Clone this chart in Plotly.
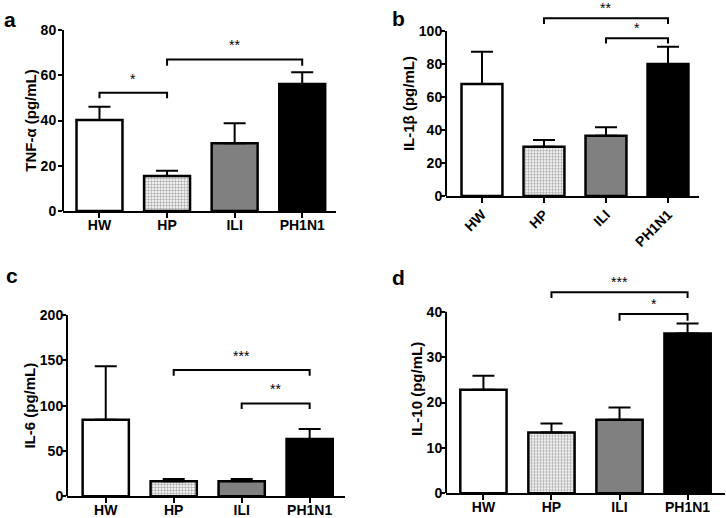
import plotly.graph_objects as go

# ---------------- data ----------------
categories = ["HW", "HP", "ILI", "PH1N1"]

tnf_mean = [40.2, 15.5, 29.9, 56.1]
tnf_sem = [5.9, 2.3, 8.9, 5.2]

il1b_mean = [67.9, 29.9, 36.5, 80.0]
il1b_sem = [19.6, 4.0, 5.1, 10.5]

il6_mean = [84.5, 16.5, 16.5, 63.2]
il6_sem = [58.9, 2.5, 2.5, 11.0]

il10_mean = [22.8, 13.4, 16.2, 35.2]
il10_sem = [3.1, 2.0, 2.7, 2.2]

# significance brackets: (from index, to index, top value, leg end value, label)
tnf_sig = [(0, 1, 52.3, 49.8, "*"), (1, 3, 67.0, 64.2, "**")]
il1b_sig = [(1, 3, 107.7, 104.2, "**"), (2, 3, 95.6, 92.5, "*")]
il6_sig = [(1, 3, 139.3, 133.0, "***"), (2, 3, 102.5, 96.3, "**")]
il10_sig = [(1, 3, 44.3, 43.0, "***"), (2, 3, 39.5, 38.0, "*")]

tnf_ticks = [0, 20, 40, 60, 80]
il1b_ticks = [0, 20, 40, 60, 80, 100]
il6_ticks = [0, 50, 100, 150, 200]
il10_ticks = [0, 10, 20, 30, 40]

# ---------------- styling / layout ----------------
W, H = 726, 518
FONT = "Liberation Sans"
bar_colors = ["white", "#efefef", "#808080", "black"]
bar_patterns = ["", "+", "", ""]

panels = [
    dict(lab="a", title="TNF-α (pg/mL)", mean=tnf_mean, sem=tnf_sem, sig=tnf_sig, ticks=tnf_ticks,
         xpx=(63, 336), ypx=(211, 30), ytop=80, xr=(-0.54, 3.5), bw=0.68, angle=0, lpos=(10, 19),
         star_shift=4, ylab_off=-1),
    dict(lab="b", title="IL-1β (pg/mL)", mean=il1b_mean, sem=il1b_sem, sig=il1b_sig, ticks=il1b_ticks,
         xpx=(446, 699), ypx=(196, 11.2), ytop=112, xr=(-0.58, 3.5), bw=0.66, angle=-45, lpos=(399, 18),
         star_shift=0, ylab_off=-4),
    dict(lab="c", title="IL-6 (pg/mL)", mean=il6_mean, sem=il6_sem, sig=il6_sig, ticks=il6_ticks,
         xpx=(67, 345), ypx=(496.3, 315), ytop=200, xr=(-0.57, 3.52), bw=0.68, angle=0, lpos=(12, 275),
         star_shift=4, ylab_off=-4),
    dict(lab="d", title="IL-10 (pg/mL)", mean=il10_mean, sem=il10_sem, sig=il10_sig, ticks=il10_ticks,
         xpx=(446, 725), ypx=(493.3, 284.5), ytop=46, xr=(-0.55, 3.55), bw=0.68, angle=0, lpos=(399, 277),
         star_shift=0, ylab_off=-4),
]

fig = go.Figure()
annotations = []
shapes = []
tickfont = dict(family=FONT, size=14, color="black", weight="bold")

for k, p in enumerate(panels):
    n = "" if k == 0 else str(k + 1)
    xa, ya = "x" + n, "y" + n
    xs = list(range(len(categories)))
    fig.add_trace(go.Bar(
        x=xs, y=p["mean"], width=p["bw"], xaxis=xa, yaxis=ya,
        marker=dict(color=bar_colors, line=dict(color="black", width=2.5),
                    pattern=dict(shape=bar_patterns, fgcolor="#cfcfcf", size=3, solidity=0.3)),
        error_y=dict(type="data", symmetric=False, array=p["sem"], arrayminus=[0] * 4,
                     color="black", thickness=2, width=11),
        showlegend=False, hoverinfo="skip",
    ))
    for (i, j, top, leg, txt) in p["sig"]:
        fig.add_trace(go.Scatter(
            x=[i, i, j, j], y=[leg, top, top, leg], mode="lines", xaxis=xa, yaxis=ya,
            line=dict(color="black", width=2), showlegend=False, hoverinfo="skip",
        ))
        annotations.append(dict(x=(i + j) / 2, y=top, xref=xa, yref=ya, text=txt, showarrow=False,
                                yanchor="bottom", yshift=p["star_shift"],
                                font=dict(family=FONT, size=14, color="black")))
    # y axis line from 0 to top tick
    shapes.append(dict(type="line", xref=xa + " domain", yref=ya, x0=0, x1=0,
                       y0=0, y1=p["ticks"][-1], line=dict(color="black", width=2)))
    annotations.append(dict(x=p["lpos"][0] / W, y=1 - p["lpos"][1] / H, xref="paper", yref="paper",
                            text="<b>" + p["lab"] + "</b>", showarrow=False,
                            xanchor="center", yanchor="middle",
                            font=dict(family=FONT, size=21, color="black")))
    fig.update_layout(**{
        ("xaxis" + n): dict(domain=[p["xpx"][0] / W, p["xpx"][1] / W], range=list(p["xr"]), anchor=ya,
                           tickvals=xs, ticktext=categories, ticks="outside", ticklen=5, tickwidth=2,
                           tickcolor="black", showline=True, linewidth=2, linecolor="black",
                           showgrid=False, zeroline=False, tickangle=p["angle"], tickfont=tickfont,
                           ticklabelstandoff=-5 if p["angle"] == 0 else -2,
                           automargin=False, fixedrange=True),
        ("yaxis" + n): dict(domain=[1 - p["ypx"][0] / H, 1 - p["ypx"][1] / H], range=[0, p["ytop"]],
                           anchor=xa, tickvals=p["ticks"], ticks="outside", ticklen=4, tickwidth=2,
                           tickcolor="black", showline=False, showgrid=False, zeroline=False,
                           tickfont=tickfont, ticklabelstandoff=p["ylab_off"],
                           title=dict(text=p["title"], font=dict(family=FONT, size=15, color="black",
                                                                  weight="bold"), standoff=0),
                           automargin=False, fixedrange=True),
    })

fig.update_layout(
    width=W, height=H, margin=dict(l=0, r=0, t=0, b=0, autoexpand=False),
    paper_bgcolor="white", plot_bgcolor="white",
    annotations=annotations, shapes=shapes, barmode="overlay",
)

fig.write_html("out.html", config={"displayModeBar": False},
               post_script="document.body.style.margin='0px';document.body.style.overflow='hidden';")
